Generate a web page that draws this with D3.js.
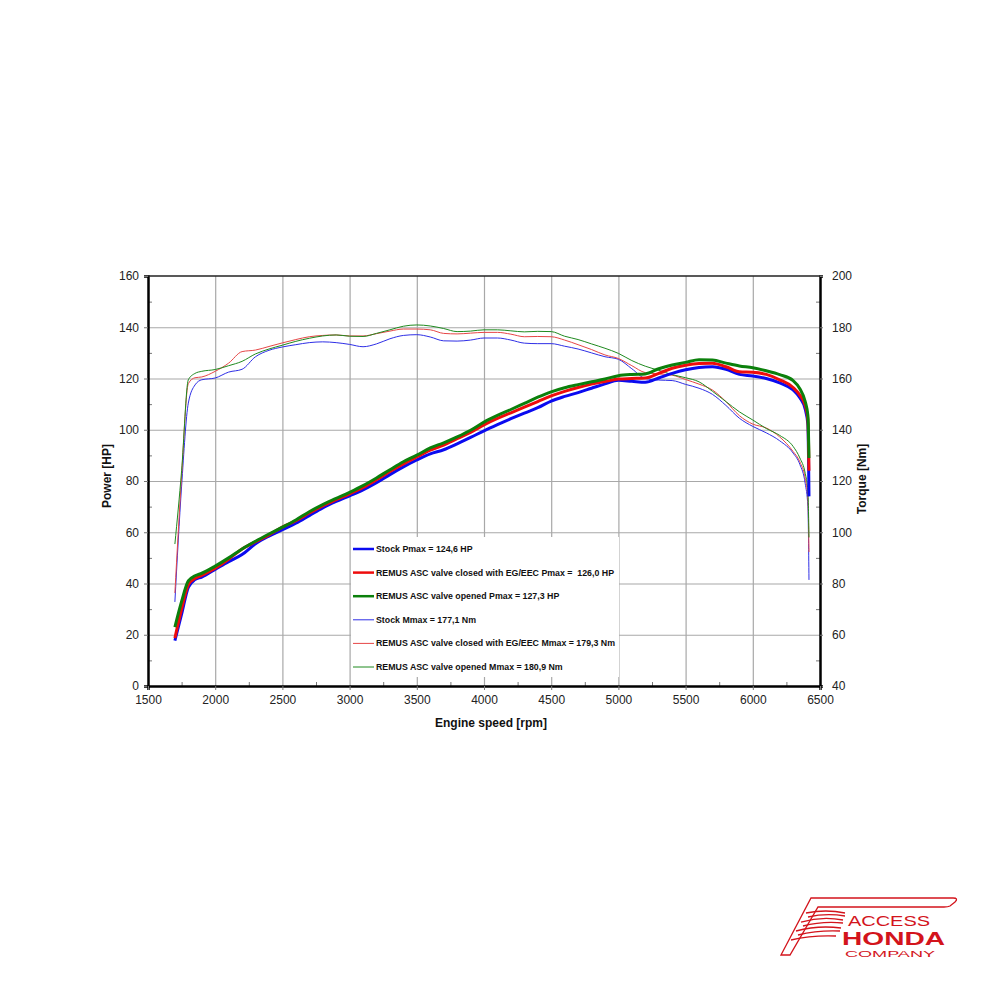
<!DOCTYPE html>
<html>
<head>
<meta charset="utf-8">
<script src="https://cdn.jsdelivr.net/npm/d3@7"></script>
<style>
  body { margin: 0; background: #fff; }
  text { font-family: Arial, "Liberation Sans", sans-serif; }
</style>
</head>
<body>
<svg id="chart" width="1000" height="1000"></svg>
<script>
// engine speed samples shared by all six curves
const rpm = [1700, 1750, 1800, 1850, 1900, 2000, 2100, 2200, 2300, 2400, 2500, 2600, 2700, 2800, 2900,
  3000, 3100, 3200, 3300, 3400, 3500, 3600, 3700, 3800, 3900, 4000, 4100, 4200, 4300, 4400, 4500,
  4600, 4700, 4800, 4900, 5000, 5100, 5200, 5300, 5400, 5500, 5600, 5700, 5800, 5900, 6000, 6100,
  6200, 6300, 6350, 6390, 6410, 6418];

// power [HP]
const powerStock = [17.7, 28, 38.5, 41.5, 42.5, 45.5, 48.5, 51.3, 55.5, 58.5, 61, 63.5, 66.5, 69.5, 72,
  74.2, 76.5, 79.3, 82.5, 85.5, 88.2, 90.6, 92.2, 94.5, 97, 99.6, 102, 104.3, 106.5, 108.6, 111.2,
  113, 114.5, 116.2, 117.9, 119.3, 118.9, 118.5, 120.2, 122, 123.4, 124.3, 124.6, 123.6, 121.6, 121, 120,
  118.3, 115.5, 112.5, 108, 102, 74];
const powerClosed = [18.7, 30, 39.5, 42, 43.2, 46, 49.5, 53.5, 56.3, 59, 62, 64.5, 67.5, 70.3, 72.7,
  75, 77.5, 80.5, 83.7, 86.7, 89.4, 92, 94, 96.5, 99, 101.9, 104.4, 106.6, 108.8, 111, 113.2,
  115, 116.5, 117.8, 118.8, 119.8, 120, 120.2, 122, 124, 125.2, 125.9, 126, 124.6, 122.6, 122.4, 121.6,
  119.5, 116.5, 113.5, 109.5, 104, 84];
const powerOpened = [23, 33, 41, 43, 44, 46.8, 50, 53.5, 56.5, 59.3, 62, 64.8, 68, 70.8, 73.2,
  75.6, 78.2, 81.2, 84.4, 87.5, 90.1, 92.9, 94.9, 97.2, 99.8, 103, 105.6, 107.9, 110.3, 112.7, 114.8,
  116.4, 117.6, 118.7, 119.8, 121.1, 121.6, 121.8, 123.8, 125.3, 126.3, 127.3, 127.2, 126, 124.9, 124.2, 123,
  121.5, 119.2, 116, 111, 105.5, 89];

// torque [Nm]
const torqueStock = [72.8, 118, 150.4, 157.5, 159.5, 160.2, 162.5, 163.6, 168.5, 171, 172.3, 173.2, 174, 174.3, 174,
  173.3, 172.4, 173.5, 175.5, 176.8, 177.1, 176.2, 174.7, 174.6, 175, 175.8, 175.8, 175, 173.8, 173.6, 173.6,
  172.6, 171.5, 170, 168.5, 167.5, 163.8, 160, 159.4, 159.2, 157.7, 156.2, 153.8, 149.5, 144.5, 141.3, 138.8,
  135.7, 130.9, 126.5, 119, 110, 81.4];
const torqueClosed = [76.3, 122, 158, 160.3, 160.6, 162.8, 166, 170.5, 171.1, 172.5, 173.9, 175.2, 176.3, 176.8, 177,
  176.6, 176.6, 177.5, 178.5, 179.3, 179.3, 179, 177.6, 177.4, 177.7, 178, 178, 177.3, 176.3, 176.4, 176.3,
  175, 173.2, 171.3, 169.2, 167.8, 165, 162.3, 161.8, 161.3, 159.6, 157.8, 155.5, 151, 145.5, 142.2, 140.7,
  137.2, 131.5, 127.5, 121, 113, 92.3];
const torqueOpened = [95.4, 124, 159.5, 162, 162.8, 163.5, 165, 166.7, 169.6, 171.5, 173, 174.5, 175.7, 176.6, 177,
  176.5, 176.4, 177.6, 179, 180.4, 180.9, 180.5, 179.5, 178.3, 178.5, 179, 179, 178.6, 178.2, 178.4, 178.3,
  176.5, 175.2, 173.5, 171.8, 169.8, 167, 164.8, 163.2, 161.5, 160.3, 158.7, 155, 151, 147, 143.8, 140.5,
  137.8, 133.5, 129, 123, 116, 98];

const rpmTicks = [1500, 2000, 2500, 3000, 3500, 4000, 4500, 5000, 5500, 6000, 6500];
const powerTicks = [0, 20, 40, 60, 80, 100, 120, 140, 160];
const torqueTicks = [40, 60, 80, 100, 120, 140, 160, 180, 200];

const legendLabels = [
  "Stock Pmax = 124,6 HP",
  "REMUS ASC valve closed with EG/EEC Pmax =  126,0 HP",
  "REMUS ASC valve opened Pmax = 127,3 HP",
  "Stock Mmax = 177,1 Nm",
  "REMUS ASC valve closed with EG/EEC Mmax = 179,3 Nm",
  "REMUS ASC valve opened Mmax = 180,9 Nm"
];

const plotLeft = 148, plotRight = 820, plotTop = 276, plotBottom = 686;
const svg = d3.select("#chart");

const x = d3.scaleLinear().domain([1500, 6500]).range([plotLeft, plotRight]);
const yP = d3.scaleLinear().domain([0, 160]).range([plotBottom, plotTop]);
const yT = d3.scaleLinear().domain([40, 200]).range([plotBottom, plotTop]);

const minorRpm = d3.range(1750, 6500, 500);
const minorP = d3.range(10, 160, 20);
const minorT = d3.range(50, 200, 20);

// grid
svg.append("g")
  .attr("transform", `translate(0,${plotBottom})`)
  .call(d3.axisBottom(x).tickValues(rpmTicks.slice(1, -1)).tickSize(-(plotBottom - plotTop)).tickFormat(""))
  .call(g => g.select(".domain").remove())
  .selectAll("line").attr("stroke", "#a8a8a8").attr("stroke-width", 1.2);

svg.append("g")
  .attr("transform", `translate(${plotLeft},0)`)
  .call(d3.axisLeft(yP).tickValues(powerTicks.slice(1, -1)).tickSize(-(plotRight - plotLeft)).tickFormat(""))
  .call(g => g.select(".domain").remove())
  .selectAll("line").attr("stroke", "#a8a8a8").attr("stroke-width", 1.2);

// minor ticks, pointing inwards
svg.append("g")
  .attr("transform", `translate(0,${plotBottom})`)
  .call(d3.axisBottom(x).tickValues(minorRpm).tickSize(-4).tickFormat(""))
  .call(g => g.select(".domain").remove())
  .selectAll("line").attr("stroke", "#777");
svg.append("g")
  .attr("transform", `translate(${plotLeft},0)`)
  .call(d3.axisLeft(yP).tickValues(minorP).tickSize(-4).tickFormat(""))
  .call(g => g.select(".domain").remove())
  .selectAll("line").attr("stroke", "#777");
svg.append("g")
  .attr("transform", `translate(${plotRight},0)`)
  .call(d3.axisRight(yT).tickValues(minorT).tickSize(-4).tickFormat(""))
  .call(g => g.select(".domain").remove())
  .selectAll("line").attr("stroke", "#777");

// curves
const series = [
  { values: torqueStock, scale: yT, color: "#2e2ee6", width: 1 },
  { values: torqueClosed, scale: yT, color: "#e64646", width: 1 },
  { values: torqueOpened, scale: yT, color: "#1f8a1f", width: 1 },
  { values: powerStock, scale: yP, color: "#0a0af0", width: 3 },
  { values: powerClosed, scale: yP, color: "#ee0c0c", width: 3 },
  { values: powerOpened, scale: yP, color: "#0b800b", width: 3 }
];

const plot = svg.append("g");
series.forEach(s => {
  const line = d3.line()
    .x(d => x(d[0]))
    .y(d => s.scale(d[1]))
    .curve(d3.curveMonotoneX);
  plot.append("path")
    .datum(rpm.map((r, i) => [r, s.values[i]]))
    .attr("d", line)
    .attr("fill", "none")
    .attr("stroke", s.color)
    .attr("stroke-width", s.width)
    .attr("stroke-linejoin", "round");
});

// axes with labels
const leftAxis = svg.append("g")
  .attr("transform", `translate(${plotLeft},0)`)
  .call(d3.axisLeft(yP).tickValues(powerTicks).tickSize(4).tickPadding(5).tickFormat(d3.format("d")));
const rightAxis = svg.append("g")
  .attr("transform", `translate(${plotRight},0)`)
  .call(d3.axisRight(yT).tickValues(torqueTicks).tickSize(3).tickPadding(9).tickFormat(d3.format("d")));
const bottomAxis = svg.append("g")
  .attr("transform", `translate(0,${plotBottom})`)
  .call(d3.axisBottom(x).tickValues(rpmTicks).tickSize(4).tickPadding(5).tickFormat(d3.format("d")));

[leftAxis, rightAxis, bottomAxis].forEach(g => {
  g.select(".domain").attr("stroke", "#000").attr("stroke-width", 2.5);
  g.selectAll("text").attr("font-size", 12).attr("fill", "#222")
    .attr("font-family", "Arial, 'Liberation Sans', sans-serif");
  g.selectAll(".tick line").attr("stroke", "#777");
});

svg.append("line")
  .attr("x1", plotLeft).attr("x2", plotRight).attr("y1", plotTop).attr("y2", plotTop)
  .attr("stroke", "#222").attr("stroke-width", 1.5);

// axis titles
svg.append("text")
  .attr("transform", `translate(111,${(plotTop + plotBottom) / 2 - 5}) rotate(-90)`)
  .attr("text-anchor", "middle")
  .attr("font-size", 12).attr("font-weight", "bold").attr("fill", "#111")
  .text("Power [HP]");
svg.append("text")
  .attr("transform", `translate(866,${(plotTop + plotBottom) / 2 - 2}) rotate(-90)`)
  .attr("text-anchor", "middle")
  .attr("font-size", 12).attr("font-weight", "bold").attr("fill", "#111")
  .text("Torque [Nm]");
svg.append("text")
  .attr("x", (plotLeft + plotRight) / 2 + 7).attr("y", 727)
  .attr("text-anchor", "middle")
  .attr("font-size", 12).attr("font-weight", "bold").attr("fill", "#111")
  .text("Engine speed [rpm]");

// legend
const legendOrder = [3, 4, 5, 0, 1, 2];
const legend = svg.append("g");
legend.append("rect")
  .attr("x", 351).attr("y", 537).attr("width", 268).attr("height", 140)
  .attr("fill", "#fff");
legendLabels.forEach((label, i) => {
  const s = series[legendOrder[i]];
  const yy = 549 + i * 23.6;
  legend.append("line")
    .attr("x1", 353).attr("x2", 374).attr("y1", yy).attr("y2", yy)
    .attr("stroke", s.color).attr("stroke-width", s.width === 3 ? 2.5 : 1);
  legend.append("text")
    .attr("x", 376).attr("y", yy + 3)
    .attr("font-size", 8.8).attr("font-weight", "bold").attr("fill", "#111")
    .style("white-space", "pre")
    .text(label);
});

// logo
const logo = svg.append("g").attr("fill", "none").attr("stroke", "#d3141c").attr("stroke-width", 1.3);
logo.append("path")
  .attr("d", "M781,955 L811,898 L953,898 Q959,898 955,902 L950,906 Q948,907 944,907 L818,907 L790,955 Z");
logo.append("path").attr("d", "M806,913 Q826,909 845,913 M808,917 Q826,913 845,916");
logo.append("path").attr("d", "M801,922 Q822,916 843,920 M803,926 Q822,921 843,923");
logo.append("path").attr("d", "M796,931 Q818,925 841,928 M798,935 Q818,930 840,931");
logo.append("path").attr("d", "M791,940 Q812,935 836,936");
const logoText = svg.append("g").attr("fill", "#d3141c");
logoText.append("text").attr("x", 848).attr("y", 925.5).attr("font-size", 14)
  .attr("textLength", 82).attr("lengthAdjust", "spacingAndGlyphs").text("ACCESS");
logoText.append("text").attr("x", 842).attr("y", 944.5).attr("font-size", 18).attr("font-weight", "bold")
  .attr("textLength", 103).attr("lengthAdjust", "spacingAndGlyphs").text("HONDA");
logoText.append("text").attr("x", 845).attr("y", 957).attr("font-size", 9.5)
  .attr("textLength", 90).attr("lengthAdjust", "spacingAndGlyphs").text("COMPANY");
</script>
</body>
</html>
